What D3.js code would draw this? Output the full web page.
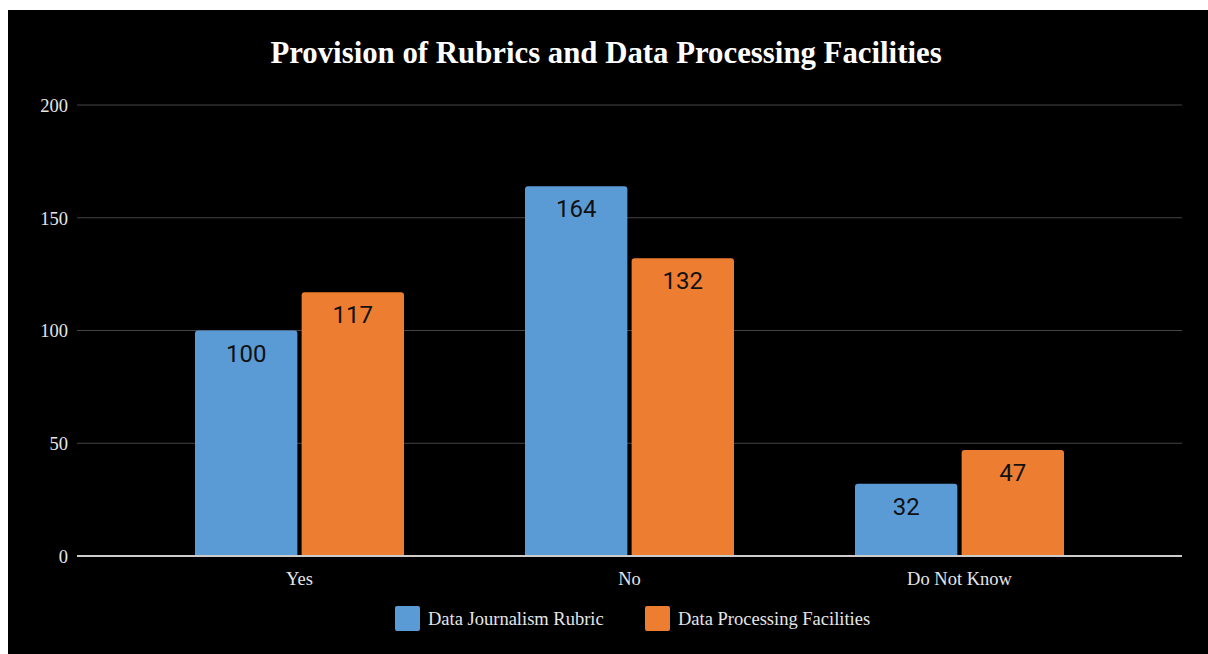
<!DOCTYPE html>
<html>
<head>
<meta charset="utf-8">
<script src="https://cdn.jsdelivr.net/npm/d3@7"></script>
<style>
  html, body { margin: 0; padding: 0; background: #ffffff; }
  svg { display: block; }
</style>
</head>
<body>
<svg id="chart" width="1208" height="654"></svg>
<script>
// Survey answers per category
const categories = ["Yes", "No", "Do Not Know"];
const seriesNames = ["Data Journalism Rubric", "Data Processing Facilities"];
const rubricValues = [100, 164, 32];
const facilitiesValues = [117, 132, 47];
const yTicks = [0, 50, 100, 150, 200];
const colors = ["#5b9bd5", "#ed7d31"];

const serif = "'Liberation Serif', 'Times New Roman', serif";
const svg = d3.select("#chart");

// dark chart panel
svg.append("rect")
  .attr("x", 8).attr("y", 10)
  .attr("width", 1200).attr("height", 644)
  .attr("fill", "#000");

const plotLeft = 77, plotRight = 1182;
const y = d3.scaleLinear().domain([0, 200]).range([556, 105]);
const x = d3.scaleBand().domain(categories).range([134.5, 1124.5]).paddingInner(0).paddingOuter(0);
const inner = d3.scaleBand().domain(seriesNames).range([0, 209]).paddingInner(0.04);
const groupOffset = (x.bandwidth() - 209) / 2;

// title
svg.append("text")
  .attr("x", 606).attr("y", 63)
  .attr("text-anchor", "middle")
  .attr("fill", "#fff")
  .attr("font-family", serif)
  .attr("font-weight", "bold")
  .attr("font-size", 30.8)
  .text("Provision of Rubrics and Data Processing Facilities");

// gridlines
svg.append("g").selectAll("line")
  .data(yTicks.filter(t => t !== 0))
  .join("line")
  .attr("x1", plotLeft).attr("x2", plotRight)
  .attr("y1", d => y(d)).attr("y2", d => y(d))
  .attr("stroke", "#444").attr("stroke-width", 1.2);

// y axis labels
const yAxis = d3.axisLeft(y).tickValues(yTicks).tickSize(0).tickPadding(0);
const yAxisG = svg.append("g")
  .attr("transform", `translate(68,0)`)
  .call(yAxis);
yAxisG.select(".domain").remove();
yAxisG.selectAll("text")
  .attr("fill", "#e6e6e6")
  .attr("font-family", serif)
  .attr("font-size", 18.5)
  .attr("dy", "0.35em");

// bars
const rows = categories.map((c, i) => ({
  category: c,
  values: [
    { series: seriesNames[0], value: rubricValues[i], color: colors[0] },
    { series: seriesNames[1], value: facilitiesValues[i], color: colors[1] }
  ]
}));

const groups = svg.append("g").selectAll("g")
  .data(rows)
  .join("g")
  .attr("transform", d => `translate(${x(d.category) + groupOffset},0)`);

groups.selectAll("path")
  .data(d => d.values)
  .join("path")
  .attr("fill", d => d.color)
  .attr("d", d => {
    const x0 = inner(d.series), w = inner.bandwidth();
    const top = y(d.value), bottom = y(0), r = 3;
    return `M${x0},${bottom}V${top + r}Q${x0},${top} ${x0 + r},${top}H${x0 + w - r}Q${x0 + w},${top} ${x0 + w},${top + r}V${bottom}Z`;
  });

groups.selectAll("text")
  .data(d => d.values)
  .join("text")
  .attr("x", d => inner(d.series) + inner.bandwidth() / 2)
  .attr("y", d => y(d.value) + 31)
  .attr("text-anchor", "middle")
  .attr("fill", "#111")
  .attr("font-family", "Roboto, 'Noto Sans', sans-serif")
  .attr("font-size", 24)
  .text(d => d.value);

// baseline
svg.append("line")
  .attr("x1", plotLeft).attr("x2", plotRight)
  .attr("y1", y(0)).attr("y2", y(0))
  .attr("stroke", "#cccccc").attr("stroke-width", 2);

// x axis labels
const xAxis = d3.axisBottom(x).tickSize(0).tickPadding(0);
const xAxisG = svg.append("g")
  .attr("transform", `translate(0,${y(0)})`)
  .call(xAxis);
xAxisG.select(".domain").remove();
xAxisG.selectAll("text")
  .attr("fill", "#e6e6e6")
  .attr("font-family", serif)
  .attr("font-size", 18.5)
  .attr("y", 29)
  .attr("dy", 0);

// legend
const legendItems = [
  { name: seriesNames[0], color: colors[0], x: 395 },
  { name: seriesNames[1], color: colors[1], x: 645 }
];
const legend = svg.append("g").selectAll("g")
  .data(legendItems)
  .join("g")
  .attr("transform", d => `translate(${d.x},606)`);
legend.append("rect")
  .attr("width", 25).attr("height", 25).attr("rx", 2)
  .attr("fill", d => d.color);
legend.append("text")
  .attr("x", 33).attr("y", 19)
  .attr("fill", "#e6e6e6")
  .attr("font-family", serif)
  .attr("font-size", 18.5)
  .text(d => d.name);
</script>
</body>
</html>
